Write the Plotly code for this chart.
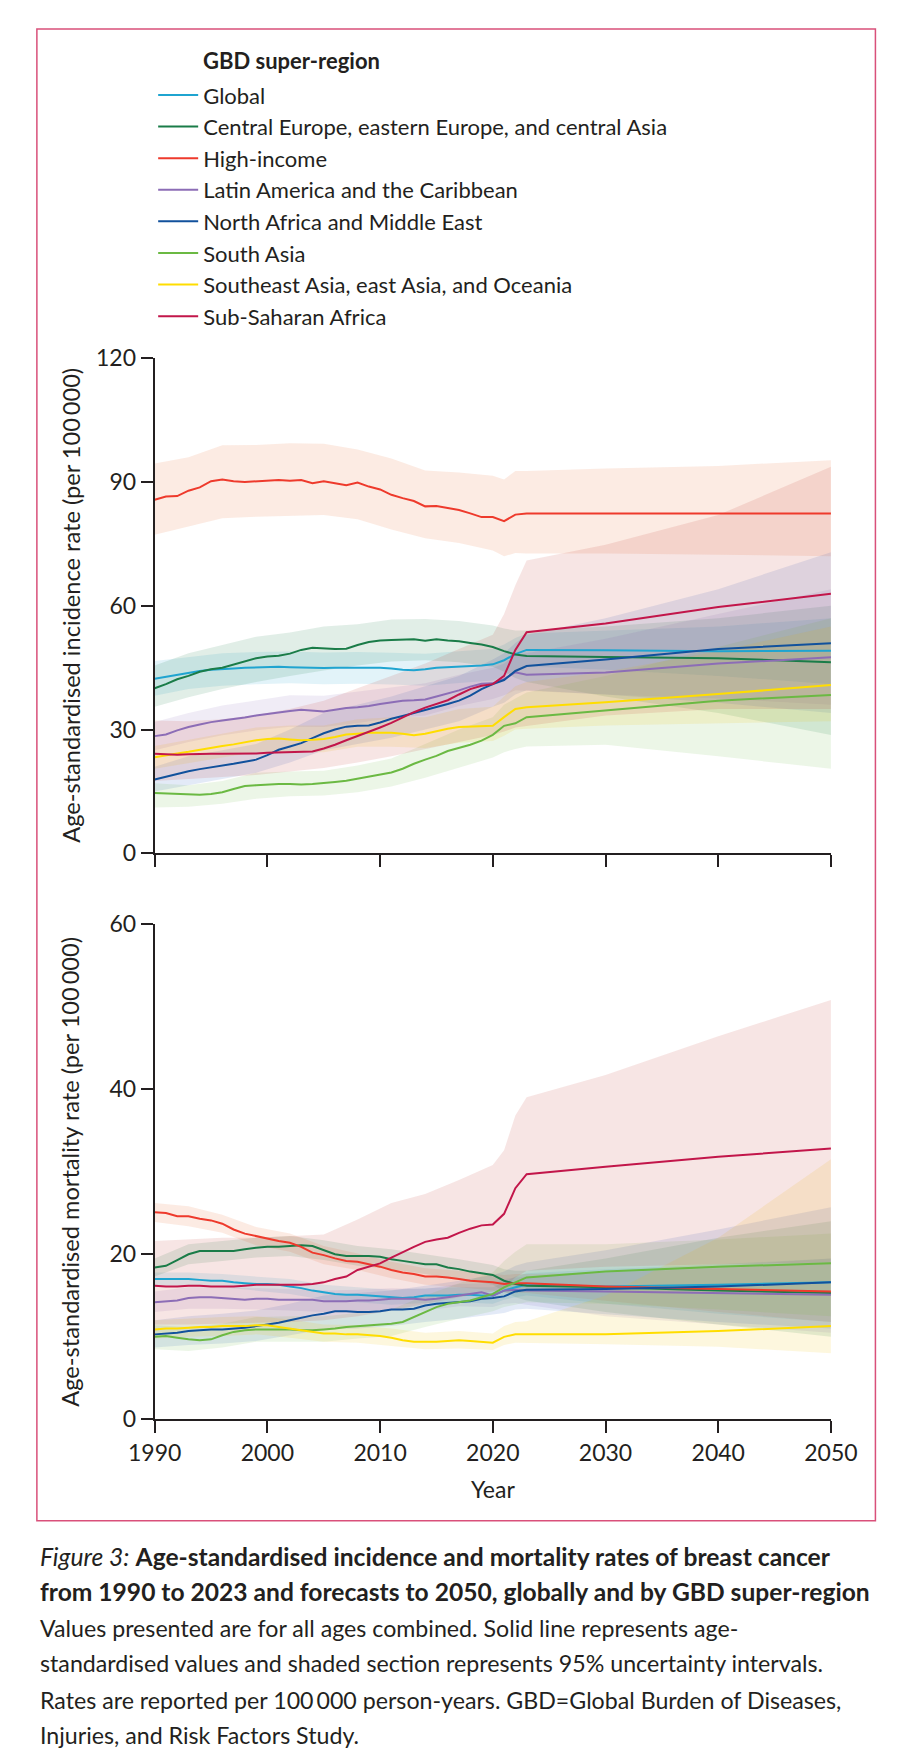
import plotly.graph_objects as go

# Years for the central estimates and for the uncertainty bands
YEARS = list(range(1990, 2024)) + [2030, 2040, 2050]
BAND_YEARS = [1990, 1993, 1996, 1999, 2002, 2005, 2008, 2011, 2014, 2017,
              2020, 2021, 2022, 2023, 2030, 2040, 2050]

REGIONS = [
    "Global",
    "Central Europe, eastern Europe, and central Asia",
    "High-income",
    "Latin America and the Caribbean",
    "North Africa and Middle East",
    "South Asia",
    "Southeast Asia, east Asia, and Oceania",
    "Sub-Saharan Africa",
]
COLORS = ["#1fa4d0", "#1a7c48", "#ee3a2c", "#8c6db6",
          "#11519c", "#6bb943", "#ffdd00", "#c2164a"]
# tint bases for the shaded intervals (the two reds look more orange/brick than their lines)
BAND_COLORS = ["#1fa4d0", "#1a7c48", "#eb6623", "#8c6db6",
               "#2a5fc0", "#6bb943", "#f2c200", "#c33730"]

# Age-standardised incidence rate (per 100 000)
inc_mid = {
    "Global": [42.3, 42.8, 43.3, 43.8, 44.2, 44.5, 44.6, 44.8, 45.0, 45.1, 45.2, 45.2, 45.1, 45.0, 44.9, 44.9, 45.0,
               45.0, 45.0, 45.0, 45.0, 44.8, 44.5, 44.4, 44.6, 45.0, 45.1, 45.2, 45.4, 45.5, 45.8, 46.8, 48.3, 49.3,
               49.2, 49.0, 49.1],
    "Central Europe, eastern Europe, and central Asia":
        [40.0, 41.0, 42.2, 43.0, 44.0, 44.6, 45.0, 45.8, 46.5, 47.3, 47.7, 47.9, 48.4, 49.3, 49.8, 49.7, 49.5,
         49.6, 50.5, 51.2, 51.6, 51.7, 51.8, 51.9, 51.5, 51.9, 51.6, 51.4, 51.0, 50.6, 50.0, 49.0, 48.2, 47.8,
         47.6, 47.3, 46.3],
    "High-income": [85.7, 86.5, 86.6, 87.9, 88.7, 90.2, 90.6, 90.2, 90.0, 90.2, 90.3, 90.5, 90.3, 90.5, 89.7, 90.2,
                    89.7, 89.2, 89.9, 88.9, 88.2, 86.9, 86.1, 85.4, 84.1, 84.2, 83.7, 83.2, 82.4, 81.5, 81.5, 80.5,
                    82.1, 82.4, 82.4, 82.4, 82.4],
    "Latin America and the Caribbean":
        [28.4, 28.8, 29.8, 30.6, 31.2, 31.8, 32.2, 32.5, 32.9, 33.4, 33.8, 34.2, 34.5, 34.8, 34.6, 34.4, 34.8,
         35.2, 35.4, 35.7, 36.2, 36.6, 37.0, 37.1, 37.3, 38.0, 38.7, 39.5, 40.4, 41.1, 41.2, 42.2, 43.9, 43.3,
         43.8, 46.0, 47.5],
    "North Africa and Middle East":
        [17.9, 18.6, 19.3, 19.9, 20.4, 20.8, 21.2, 21.7, 22.2, 22.7, 23.8, 25.1, 25.9, 26.7, 27.9, 29.1, 30.0,
         30.7, 30.9, 31.0, 31.7, 32.6, 33.3, 34.0, 34.7, 35.4, 36.2, 37.0, 38.2, 39.8, 41.0, 42.0, 44.2, 45.4,
         47.0, 49.5, 50.9],
    "South Asia": [14.6, 14.5, 14.3, 14.2, 14.2, 14.4, 14.8, 15.6, 16.3, 16.5, 16.7, 16.8, 16.8, 16.7, 16.8, 17.0,
                   17.3, 17.6, 18.1, 18.6, 19.1, 19.6, 20.5, 21.7, 22.7, 23.6, 24.8, 25.5, 26.3, 27.3, 28.7, 30.9,
                   31.5, 33.0, 34.6, 37.0, 38.4],
    "Southeast Asia, east Asia, and Oceania":
        [23.3, 23.8, 24.2, 24.6, 25.1, 25.6, 26.0, 26.4, 26.9, 27.4, 27.7, 27.8, 27.6, 27.4, 27.5, 27.7, 28.2,
         28.8, 29.0, 29.2, 29.2, 29.2, 29.0, 28.6, 29.0, 29.6, 30.2, 30.6, 30.7, 30.8, 30.9, 33.0, 35.0, 35.4,
         36.6, 38.6, 40.8],
    "Sub-Saharan Africa": [24.1, 24.0, 23.9, 24.0, 24.1, 24.1, 24.1, 24.1, 24.2, 24.2, 24.4, 24.5, 24.6, 24.6, 24.7,
                           25.4, 26.3, 27.4, 28.4, 29.4, 30.5, 31.6, 33.0, 34.2, 35.3, 36.2, 37.1, 38.5, 39.8, 40.6,
                           41.0, 43.0, 49.3, 53.6, 55.7, 59.7, 62.9],
}
inc_lo = {
    "Global": [38.2, 39.8, 40.6, 41.0, 41.2, 41.0, 41.1, 40.9, 40.6, 41.3, 41.9, 43.0, 44.5, 45.3, 44.5, 43.0, 41.0],
    "Central Europe, eastern Europe, and central Asia":
        [35.5, 37.8, 39.8, 41.5, 43.0, 44.3, 45.5, 46.5, 46.8, 46.3, 45.2, 44.0, 42.5, 41.5, 38.0, 34.0, 28.7],
    "High-income": [77.2, 79.2, 81.2, 81.6, 81.8, 82.0, 81.0, 78.5, 76.4, 75.2, 73.4, 72.0, 72.8, 72.7, 72.7, 72.4, 72.0],
    "Latin America and the Caribbean":
        [25.0, 27.0, 28.6, 29.8, 30.7, 30.6, 31.6, 32.8, 33.4, 35.7, 37.4, 38.3, 39.5, 39.3, 38.5, 37.5, 36.0],
    "North Africa and Middle East":
        [15.0, 16.5, 18.0, 19.5, 22.0, 25.0, 26.5, 28.0, 30.0, 32.0, 35.5, 36.5, 38.5, 39.5, 38.5, 36.5, 34.0],
    "South Asia": [11.1, 11.3, 12.0, 13.2, 13.8, 14.0, 14.8, 16.2, 18.3, 20.8, 23.2, 24.5, 25.3, 25.9, 26.3, 23.5, 20.5],
    "Southeast Asia, east Asia, and Oceania":
        [20.5, 21.8, 23.2, 24.5, 24.5, 24.5, 25.8, 25.8, 25.5, 26.8, 27.2, 28.5, 30.0, 30.2, 31.0, 31.5, 32.0],
    "Sub-Saharan Africa": [17.5, 18.0, 18.5, 19.0, 19.8, 20.7, 22.0, 23.5, 25.3, 27.0, 28.7, 29.5, 30.5, 31.0, 33.4, 35.0, 35.0],
}
inc_hi = {
    "Global": [46.6, 47.6, 48.5, 48.8, 48.9, 48.7, 48.8, 48.6, 48.4, 49.0, 49.6, 50.6, 52.2, 53.3, 54.0, 55.0, 57.0],
    "Central Europe, eastern Europe, and central Asia":
        [45.5, 48.5, 50.5, 52.5, 53.5, 55.0, 55.5, 56.7, 56.8, 56.3, 55.2, 54.5, 54.0, 54.0, 55.0, 57.0, 60.0],
    "High-income": [94.5, 96.0, 98.9, 99.0, 99.4, 99.3, 97.9, 95.7, 92.8, 92.3, 91.5, 90.6, 92.7, 92.7, 93.3, 93.9, 95.3],
    "Latin America and the Caribbean":
        [31.8, 34.0, 35.8, 37.0, 38.3, 38.2, 39.2, 40.3, 41.2, 43.3, 45.0, 46.0, 48.0, 48.5, 52.0, 58.0, 64.0],
    "North Africa and Middle East":
        [21.0, 23.5, 25.0, 26.5, 30.0, 34.0, 36.0, 38.0, 40.5, 43.0, 47.0, 48.5, 51.0, 53.0, 57.0, 64.0, 73.0],
    "South Asia": [17.0, 16.5, 17.5, 19.5, 19.8, 20.0, 21.3, 23.0, 26.5, 30.0, 33.0, 36.0, 37.5, 39.0, 43.0, 50.0, 57.0],
    "Southeast Asia, east Asia, and Oceania":
        [26.0, 27.5, 29.0, 30.5, 31.0, 31.0, 32.5, 33.0, 33.0, 35.0, 35.5, 38.0, 40.5, 41.5, 44.0, 49.0, 55.0],
    "Sub-Saharan Africa": [32.2, 32.0, 32.5, 33.5, 35.0, 37.0, 40.0, 43.0, 46.0, 49.5, 53.0, 58.0, 65.0, 71.0, 74.8, 82.0, 93.7],
}

# Age-standardised mortality rate (per 100 000)
mort_mid = {
    "Global": [17.0, 17.0, 17.0, 17.0, 16.9, 16.8, 16.8, 16.6, 16.5, 16.4, 16.4, 16.3, 16.1, 15.9, 15.6, 15.4, 15.2,
               15.1, 15.1, 15.0, 14.9, 14.8, 14.7, 14.8, 15.0, 15.0, 15.0, 15.1, 15.1, 15.0, 15.0, 15.6, 16.0, 16.3,
               16.1, 16.3, 16.6],
    "Central Europe, eastern Europe, and central Asia":
        [18.4, 18.6, 19.3, 20.0, 20.4, 20.4, 20.4, 20.4, 20.6, 20.8, 20.9, 20.9, 21.0, 21.1, 21.0, 20.5, 20.0,
         19.8, 19.8, 19.8, 19.7, 19.4, 19.2, 19.0, 18.8, 18.8, 18.4, 18.2, 17.9, 17.7, 17.5, 16.8, 16.4, 16.2,
         16.0, 15.6, 15.3],
    "High-income": [25.1, 25.0, 24.6, 24.6, 24.3, 24.1, 23.7, 23.0, 22.5, 22.2, 21.9, 21.6, 21.4, 20.9, 20.2, 19.9,
                    19.5, 19.2, 19.1, 18.8, 18.5, 18.1, 17.8, 17.6, 17.3, 17.3, 17.2, 17.0, 16.8, 16.7, 16.6, 16.4,
                    16.5, 16.5, 16.1, 15.8, 15.5],
    "Latin America and the Caribbean":
        [14.2, 14.3, 14.4, 14.7, 14.8, 14.8, 14.7, 14.6, 14.5, 14.6, 14.6, 14.5, 14.5, 14.5, 14.5, 14.3, 14.3,
         14.3, 14.4, 14.4, 14.5, 14.6, 14.6, 14.6, 14.5, 14.6, 14.8, 15.0, 15.2, 15.4, 15.0, 15.6, 15.7, 15.6,
         15.5, 15.3, 15.1],
    "North Africa and Middle East":
        [10.3, 10.4, 10.5, 10.7, 10.8, 10.9, 10.9, 11.0, 11.1, 11.3, 11.5, 11.7, 12.0, 12.3, 12.6, 12.8, 13.1,
         13.1, 13.0, 13.0, 13.1, 13.3, 13.3, 13.4, 13.8, 14.0, 14.1, 14.2, 14.3, 14.6, 14.7, 14.9, 15.5, 15.7,
         15.8, 16.1, 16.6],
    "South Asia": [10.0, 10.1, 9.9, 9.7, 9.6, 9.7, 10.2, 10.6, 10.8, 10.9, 10.9, 10.9, 10.9, 10.8, 10.8, 10.9,
                   11.0, 11.2, 11.3, 11.4, 11.5, 11.6, 11.8, 12.4, 13.0, 13.6, 14.0, 14.2, 14.4, 14.8, 15.2, 16.0,
                   16.6, 17.2, 17.9, 18.5, 18.9],
    "Southeast Asia, east Asia, and Oceania":
        [10.9, 11.0, 11.0, 11.1, 11.2, 11.2, 11.3, 11.3, 11.3, 11.4, 11.4, 11.2, 11.0, 10.8, 10.6, 10.4, 10.4,
         10.3, 10.3, 10.2, 10.1, 9.9, 9.6, 9.4, 9.4, 9.4, 9.5, 9.6, 9.5, 9.4, 9.3, 10.0, 10.3, 10.3,
         10.3, 10.7, 11.3],
    "Sub-Saharan Africa": [16.2, 16.1, 16.1, 16.2, 16.2, 16.1, 16.1, 16.1, 16.2, 16.3, 16.3, 16.3, 16.3, 16.3, 16.4,
                           16.6, 17.0, 17.3, 18.1, 18.5, 18.9, 19.6, 20.3, 20.9, 21.5, 21.8, 22.0, 22.6, 23.1, 23.5,
                           23.6, 24.9, 28.0, 29.7, 30.6, 31.8, 32.8],
}
mort_lo = {
    "Global": [16.2, 16.2, 16.0, 15.6, 15.2, 14.5, 14.2, 13.9, 14.1, 14.2, 14.0, 14.5, 14.8, 15.0, 14.0, 12.8, 11.8],
    "Central Europe, eastern Europe, and central Asia":
        [17.3, 18.8, 19.2, 19.6, 19.8, 19.3, 18.6, 18.2, 17.6, 17.0, 16.3, 15.5, 14.8, 14.4, 13.0, 11.5, 10.0],
    "High-income": [23.9, 23.4, 22.6, 21.1, 20.3, 18.8, 18.1, 17.1, 16.3, 16.0, 15.6, 15.3, 15.3, 15.3, 14.3, 13.0, 11.8],
    "Latin America and the Caribbean":
        [13.0, 13.4, 13.4, 13.3, 13.2, 13.0, 13.1, 13.3, 13.2, 13.7, 13.6, 14.0, 14.1, 13.9, 12.5, 11.5, 10.5],
    "North Africa and Middle East":
        [8.7, 9.0, 9.2, 9.5, 10.2, 10.9, 11.0, 11.3, 11.8, 12.2, 12.7, 12.9, 13.3, 13.4, 12.7, 11.8, 11.0],
    "South Asia": [8.5, 8.3, 8.7, 9.4, 9.4, 9.4, 9.8, 10.1, 11.2, 12.2, 13.1, 13.6, 13.9, 14.2, 14.0, 13.3, 12.5],
    "Southeast Asia, east Asia, and Oceania":
        [9.8, 10.0, 10.1, 10.3, 9.9, 9.4, 9.3, 8.9, 8.5, 8.6, 8.4, 9.0, 9.3, 9.3, 9.1, 8.8, 8.0],
    "Sub-Saharan Africa": [11.5, 11.5, 11.6, 11.7, 11.8, 12.0, 12.5, 13.2, 14.0, 14.8, 15.5, 16.0, 17.2, 18.0, 18.5, 18.8, 19.0],
}
mort_hi = {
    "Global": [17.8, 17.8, 17.6, 17.3, 17.0, 16.3, 16.0, 15.7, 15.9, 16.0, 16.0, 16.7, 17.3, 17.7, 18.2, 18.8, 19.5],
    "Central Europe, eastern Europe, and central Asia":
        [19.5, 21.2, 21.6, 22.0, 22.2, 21.7, 21.0, 20.6, 20.0, 19.4, 18.7, 18.2, 18.0, 18.0, 19.5, 22.0, 24.0],
    "High-income": [26.2, 25.8, 24.8, 23.3, 22.5, 21.0, 20.1, 19.1, 18.3, 18.0, 17.6, 17.5, 17.6, 17.6, 17.8, 18.3, 19.0],
    "Latin America and the Caribbean":
        [15.5, 16.0, 16.0, 15.9, 15.8, 15.6, 15.7, 15.9, 15.8, 16.4, 16.5, 17.0, 17.2, 17.3, 17.8, 18.6, 19.5],
    "North Africa and Middle East":
        [12.0, 12.5, 12.8, 13.2, 14.0, 15.0, 15.3, 15.6, 16.2, 16.8, 17.5, 17.9, 18.6, 19.0, 20.5, 23.0, 25.7],
    "South Asia": [11.4, 11.2, 11.6, 12.4, 12.5, 12.5, 12.9, 13.3, 15.0, 16.5, 17.8, 19.2, 20.3, 21.2, 21.2, 21.8, 22.5],
    "Southeast Asia, east Asia, and Oceania":
        [12.0, 12.2, 12.4, 12.5, 12.1, 11.5, 11.4, 11.0, 10.5, 10.7, 10.4, 11.3, 11.8, 11.9, 15.0, 22.0, 31.5],
    "Sub-Saharan Africa": [21.6, 21.8, 22.0, 22.0, 22.2, 22.4, 24.2, 26.2, 27.3, 29.0, 30.8, 32.6, 36.8, 39.0, 41.7, 46.4, 50.8],
}

W, H = 901, 1761
FONT = "Lato"
INK = "#231f20"


def px(x):
    return x / W


def py(y):
    return 1 - y / H


def rgba(hex_color, a):
    h = hex_color.lstrip("#")
    return "rgba(%d,%d,%d,%.2f)" % (int(h[0:2], 16), int(h[2:4], 16), int(h[4:6], 16), a)


fig = go.Figure()


def add_panel(mid, lo, hi, xa, ya, legend):
    # shaded 95% uncertainty intervals first, then the solid lines on top
    for name, bcol in zip(REGIONS, BAND_COLORS):
        fig.add_trace(go.Scatter(
            x=BAND_YEARS + BAND_YEARS[::-1], y=hi[name] + lo[name][::-1],
            fill="toself", fillcolor=rgba(bcol, 0.13), line=dict(width=0),
            mode="lines", hoverinfo="skip", showlegend=False, xaxis=xa, yaxis=ya))
    for name, color in zip(REGIONS, COLORS):
        fig.add_trace(go.Scatter(
            x=YEARS, y=mid[name], mode="lines", name=name, legendgroup=name,
            line=dict(color=color, width=2), showlegend=legend, xaxis=xa, yaxis=ya))


add_panel(inc_mid, inc_lo, inc_hi, "x", "y", True)
add_panel(mort_mid, mort_lo, mort_hi, "x2", "y2", False)

x_dom = [px(127.3), px(846.7)]
axis_style = dict(showline=True, linecolor=INK, linewidth=2, ticks="outside", ticklen=12,
                  tickwidth=2, tickcolor=INK, showgrid=False, zeroline=False,
                  tickfont=dict(family=FONT, size=23, color=INK))

fig.update_layout(
    width=W, height=H,
    margin=dict(l=0, r=0, t=0, b=0),
    paper_bgcolor="white", plot_bgcolor="white",
    font=dict(family=FONT, color=INK),
    xaxis=dict(domain=x_dom, range=[1990, 2050], tickvals=list(range(1990, 2051, 10)),
               showticklabels=False, anchor="y", **axis_style),
    yaxis=dict(domain=[py(843.7), py(340.7)], range=[0, 120], tickvals=[0, 30, 60, 90, 120],
               anchor="x", **axis_style),
    xaxis2=dict(domain=x_dom, range=[1990, 2050], tickvals=list(range(1990, 2051, 10)),
                anchor="y2", **axis_style),
    yaxis2=dict(domain=[py(1419), py(915.5)], range=[0, 60], tickvals=[0, 20, 40, 60],
                anchor="x2", **axis_style),
    legend=dict(x=px(125.7), y=py(52), xanchor="left", yanchor="top",
                font=dict(family=FONT, size=22, color=INK), tracegroupgap=0,
                itemwidth=40, bgcolor="rgba(0,0,0,0)"),
    showlegend=True,
)

annotations = [
    dict(x=px(177), y=py(38), text="<b>GBD super-region</b>", xanchor="left", yanchor="middle",
         font=dict(size=22)),
    dict(x=px(37.5), y=py(592), text="Age-standardised incidence rate (per 100\u2009000)",
         textangle=-90, xanchor="center", yanchor="middle", font=dict(size=23.6)),
    dict(x=px(37.5), y=py(1167), text="Age-standardised mortality rate (per 100\u2009000)",
         textangle=-90, xanchor="center", yanchor="middle", font=dict(size=23.6)),
    dict(x=px(486.7), y=py(1490), text="Year", xanchor="center", yanchor="middle",
         font=dict(size=23)),
]

caption = [
    ("<i>Figure 3:</i> <b>Age-standardised incidence and mortality rates of breast cancer</b>", 1558, 24.6),
    ("<b>from 1990 to 2023 and forecasts to 2050, globally and by GBD super-region</b>", 1594, 24.6),
    ("Values presented are for all ages combined. Solid line represents age-", 1631, 23.2),
    ("standardised values and shaded section represents 95% uncertainty intervals.", 1667, 23.2),
    ("Rates are reported per 100\u2009000 person-years. GBD=Global Burden of Diseases,", 1704, 23.2),
    ("Injuries, and Risk Factors Study.", 1740, 23.2),
]
for text, y, size in caption:
    annotations.append(dict(x=px(3), y=py(y), text=text, xanchor="left", yanchor="middle",
                            font=dict(size=size)))

for a in annotations:
    a.update(xref="paper", yref="paper", showarrow=False)
fig.update_layout(annotations=annotations)

# pink frame around the figure panel
fig.add_shape(type="rect", xref="paper", yref="paper",
              x0=px(2), x1=px(894), y0=py(1522), y1=py(6),
              line=dict(color="#d9507a", width=1.5))

fig.write_html("out.html")
